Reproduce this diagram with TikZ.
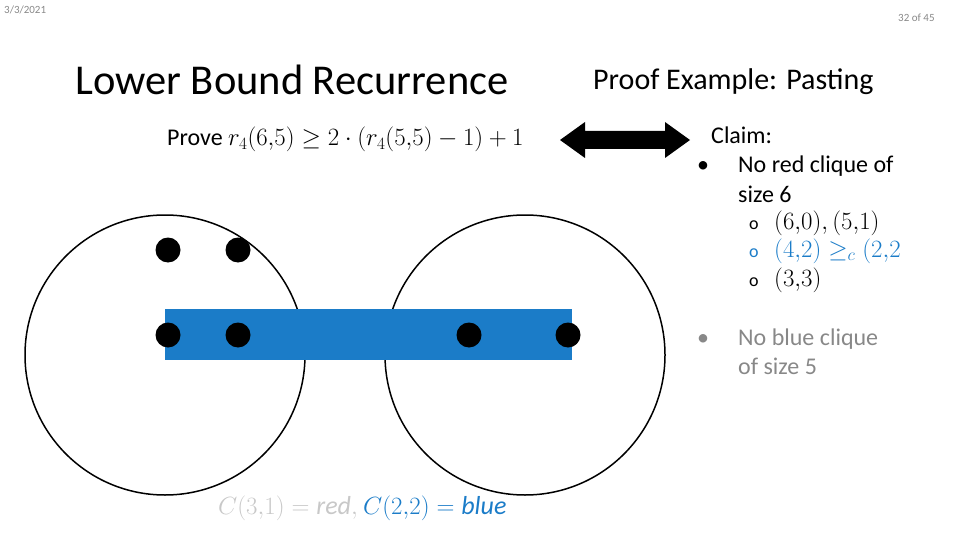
\documentclass[tikz,border=0pt]{standalone}
\usepackage{fontspec}
\setmainfont{Carlito}
\definecolor{bl}{HTML}{1B7CC8}
\definecolor{gr}{HTML}{888888}
\definecolor{lg}{HTML}{C8C8C8}
\begin{document}
\begin{tikzpicture}[x=1pt,y=-1pt,
  dot/.style={circle,fill=black,minimum size=25pt,inner sep=0pt},
  big/.style={circle,draw=black,line width=1.5pt,minimum size=280pt,inner sep=0pt},
  txt/.style={anchor=base west,inner sep=0pt}]
\useasboundingbox (0,0) rectangle (960,540);
\node[txt,text=gr,font=\fontsize{11}{12}\selectfont] (date) at (4,14) {3/3/2021};
\node[txt,text=gr,font=\fontsize{11}{12}\selectfont] (pg) at (898,22) {32 of 45};
\node[txt,font=\fontsize{42.5}{44}\selectfont] (t1) at (75,95) {Lower Bound Recurrence};
\node[txt,font=\fontsize{30}{32}\selectfont] (t2) at (593,90) {Proof Example: Pasting};
\node[txt,font=\fontsize{24}{26}\selectfont] (pr) at (167,146) {Prove \fontsize{26}{28}\selectfont$r_4(6{,}5)\geq 2\cdot(r_4(5{,}5)-1)+1$};
\fill[black] (560,140) -- (585,122) -- (585,131) -- (665,131) -- (665,122) -- (690,140) -- (665,158) -- (665,149) -- (585,149) -- (585,158) -- cycle;
\coordinate (arr) at (625,140);
\node[big] (L) at (165,355) {};
\node[big] (R) at (525,355) {};
\fill[bl] (165,309) rectangle (572,360);
\foreach \n/\x/\y in {a/168/250,b/238/250,c/168/335,d/238/335,e/469/335,f/568/335}
  \node[dot] (\n) at (\x,\y) {};
\begin{scope}[font=\fontsize{24}{26}\selectfont]
\node[txt] (cl) at (711,144) {Claim:};
\node[txt] (b1) at (697,173) {•};
\node[txt] (l1) at (738,173) {No red clique of};
\node[txt] (l2) at (738,202) {size 6};
\node[txt] (s1) at (749,229) {\fontsize{18}{18}\selectfont o};
\node[txt] (m1) at (774,229) {\fontsize{26}{28}\selectfont$(6{,}0),(5{,}1)$};
\node[txt,text=bl] (s2) at (749,257) {\fontsize{18}{18}\selectfont o};
\node[txt,text=bl] (m2) at (774,257) {\fontsize{26}{28}\selectfont$(4{,}2)\geq_c(2{,}2$};
\node[txt] (s3) at (749,286) {\fontsize{18}{18}\selectfont o};
\node[txt] (m3) at (774,286) {\fontsize{26}{28}\selectfont$(3{,}3)$};
\node[txt,text=gr] (b2) at (697,345) {•};
\node[txt,text=gr] (l3) at (738,345) {No blue clique};
\node[txt,text=gr] (l4) at (738,374) {of size 5};
\node[txt,text=lg] (c1) at (218,514) {\fontsize{26}{28}\selectfont$C(3{,}1)=\mathit{red},$};
\node[txt,text=bl] (c2) at (363,514) {\fontsize{26}{28}\selectfont$C(2{,}2)=\mathit{blue}$};
\end{scope}
\end{tikzpicture}
\end{document}
